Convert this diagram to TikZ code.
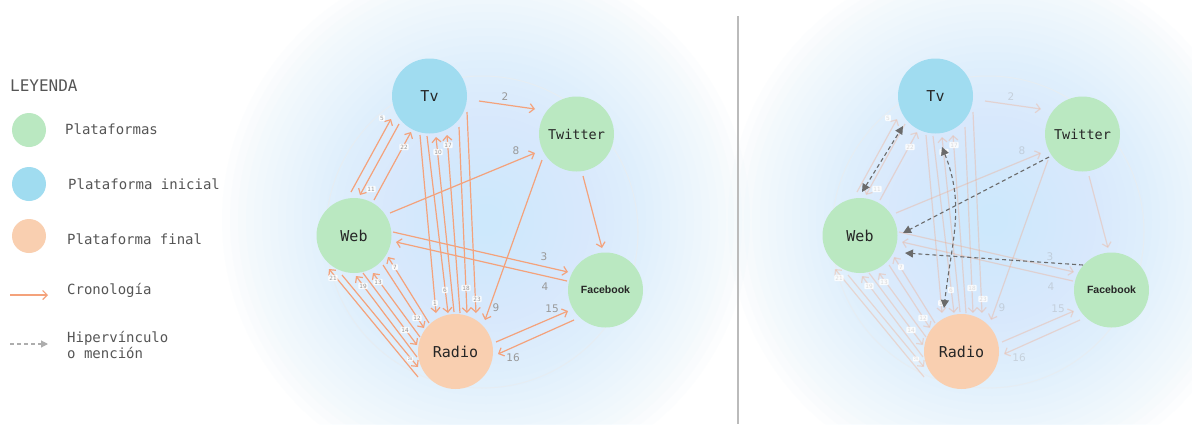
\documentclass[tikz,border=0pt]{standalone}
\usepackage{fontspec}
\setmainfont{DejaVu Sans}
\newfontfamily\monof{DejaVu Sans Mono}
\newfontfamily\libf{Liberation Sans}
\usetikzlibrary{arrows.meta,calc}
\definecolor{cgreen}{HTML}{BAE8C1}
\definecolor{cblue}{HTML}{A0DCF0}
\definecolor{cpeach}{HTML}{F9CFB0}
\definecolor{corange}{HTML}{F4A27B}
\definecolor{cglow}{HTML}{CDE8FC}
\definecolor{ctext}{HTML}{555555}
\definecolor{cnum}{HTML}{999999}
\definecolor{cdash}{HTML}{6B6B6B}
\definecolor{cring}{HTML}{E6EDF3}
\definecolor{cdiv}{HTML}{BBBBBB}
\tikzset{
  plat/.style={circle, minimum size=75pt, inner sep=0pt, text=black!85},
  arr/.style={draw=corange, line width=1.2pt, -{Straight Barb[length=4.5pt,width=9pt]}},
  smalllab/.style={fill=white, fill opacity=0.85, rounded corners=1pt, inner sep=1pt, font=\fontsize{5.8}{6}\selectfont, text=cnum},
  biglab/.style={inner sep=0pt, font=\fontsize{10.5}{12}\selectfont, text=cnum},
  hyp/.style={draw=cdash, line width=1.1pt, dash pattern=on 4pt off 3pt},
  tri/.tip={Triangle[length=8pt,width=8pt]},
  legtext/.style={anchor=west, inner sep=0pt, text=ctext, font=\monof\fontsize{14}{16}\selectfont, align=left}
}
\begin{document}
\begin{tikzpicture}[x=1pt,y=-1pt]
\useasboundingbox (0,0) rectangle (1192,424);
\fill[white] (0,0) rectangle (1192,424);
% glows
\foreach \cx in {486,992} {
  \foreach \r in {264,256,...,8} {
    \fill[cglow, fill opacity=0.05] (\cx,220) circle (\r);
  }
}
% divider
\coordinate (d1) at (738,16);
\coordinate (d2) at (738,424);
\draw[cdiv, line width=1.5pt] (d1) -- (d2);
% legend
\node[anchor=west, inner sep=0pt, text=ctext, font=\monof\fontsize{16}{18}\selectfont] (leg) at (10,86) {LEYENDA};
\fill[cgreen] (29,130) circle (17);
\fill[cblue] (29,184) circle (17);
\fill[cpeach] (29,236) circle (17);
\node[legtext] (l1) at (65,129) {Plataformas};
\node[legtext] (l2) at (68,184) {Plataforma inicial};
\node[legtext] (l3) at (67,239) {Plataforma final};
\node[legtext] (l4) at (67,290) {Cronología};
\node[legtext] (l5) at (67,345) {Hipervínculo\\o mención};
\coordinate (c1) at (10,295);
\coordinate (c2) at (48,295);
\draw[arr] (c1) -- (c2);
\coordinate (h1) at (10,344);
\coordinate (h2) at (48,344);
\draw[draw=cnum!80, line width=1.1pt, dash pattern=on 4pt off 3pt, -{Triangle[length=7pt,width=7pt]}] (h1) -- (h2);
% diagrams
\foreach \s/\dx/\op in {L/0/1, R/506/0.33} {
\begin{scope}[xshift=\dx pt]
  \draw[cring, line width=1pt] (482,232) circle (156);
  \node[plat, fill=cblue, font=\monof\fontsize{15}{16}\selectfont] (tv\s) at (429.5,96) {Tv};
  \node[plat, fill=cgreen, font=\monof\fontsize{13.5}{15}\selectfont] (tw\s) at (576.5,134) {Twitter};
  \node[plat, fill=cgreen, font=\monof\fontsize{15}{16}\selectfont] (web\s) at (354,235.5) {Web};
  \node[plat, fill=cgreen, font=\libf\bfseries\fontsize{10.5}{12}\selectfont] (fb\s) at (605.5,290) {Facebook};
  \node[plat, fill=cpeach, font=\monof\fontsize{15}{16}\selectfont] (ra\s) at (455.5,351.5) {Radio};
  \begin{scope}[opacity=\op]
  % Tv <-> Radio
  \draw[arr] ($(tv\s)+(-9.5,39)$) -- ($(ra\s)+(-19.5,-38.5)$);
  \draw[arr] ($(tv\s)+(-2.5,40)$) -- ($(ra\s)+(-7.5,-38.5)$);
  \draw[arr] ($(ra\s)+(-1.5,-39.5)$) -- ($(tv\s)+(6.5,41)$);
  \draw[arr] ($(ra\s)+(4.5,-38.5)$) -- ($(tv\s)+(17.5,39)$);
  \draw[arr] ($(tv\s)+(29.5,31)$) -- ($(ra\s)+(11.5,-38.5)$);
  \draw[arr] ($(tv\s)+(37.5,16)$) -- ($(ra\s)+(20.5,-38.5)$);
  % Web <-> Tv
  \draw[arr] ($(web\s)+(-3,-43.5)$) -- ($(tv\s)+(-38.5,23)$);
  \draw[arr] ($(tv\s)+(-30.5,28)$) -- ($(web\s)+(6,-40.5)$);
  \draw[arr] ($(web\s)+(20,-35.5)$) -- ($(tv\s)+(-18.5,36)$);
  % Web <-> Radio
  \draw[arr] ($(ra\s)+(-26.5,-28.5)$) -- ($(web\s)+(34,21.5)$);
  \draw[arr] ($(web\s)+(29,29.5)$) -- ($(ra\s)+(-31.5,-23.5)$);
  \draw[arr] ($(ra\s)+(-35.5,-14.5)$) -- ($(web\s)+(19,37.5)$);
  \draw[arr] ($(web\s)+(9,37.5)$) -- ($(ra\s)+(-38.5,-6.5)$);
  \draw[arr] ($(ra\s)+(-38.5,5.5)$) -- ($(web\s)+(2,40.5)$);
  \draw[arr] ($(web\s)+(-12,39.5)$) -- ($(ra\s)+(-37.5,15.5)$);
  \draw[arr] ($(ra\s)+(-37.5,25.5)$) -- ($(web\s)+(-25,33.5)$);
  % others
  \draw[arr] ($(tv\s)+(49.5,5)$) -- ($(tw\s)+(-41.5,-25)$);
  \draw[arr] ($(web\s)+(36,-22.5)$) -- ($(tw\s)+(-41.5,19)$);
  \draw[arr] ($(tw\s)+(-34.5,26)$) -- ($(ra\s)+(29.5,-31.5)$);
  \draw[arr] ($(tw\s)+(6.5,42)$) -- ($(fb\s)+(-3.5,-42)$);
  \draw[arr] ($(web\s)+(39,-3.5)$) -- ($(fb\s)+(-37.5,-18)$);
  \draw[arr] ($(fb\s)+(-38.5,-9)$) -- ($(web\s)+(42,6.5)$);
  \draw[arr] ($(ra\s)+(40.5,-9.5)$) -- ($(fb\s)+(-37.5,21)$);
  \draw[arr] ($(fb\s)+(-31.5,30)$) -- ($(ra\s)+(42.5,2.5)$);
  \end{scope}
  % labels
  \begin{scope}[text opacity=\op]
  \node[smalllab] at (435,303) {1};
  \node[smalllab] at (445,290) {6};
  \node[smalllab] at (438,152) {10};
  \node[smalllab] at (448,145) {17};
  \node[smalllab] at (466,288) {18};
  \node[smalllab] at (477,299) {23};
  \node[smalllab] at (382,118) {5};
  \node[smalllab] at (371,189) {11};
  \node[smalllab] at (404,147) {22};
  \node[smalllab] at (395,267) {7};
  \node[smalllab] at (417,318) {12};
  \node[smalllab] at (378,282) {13};
  \node[smalllab] at (405,330) {14};
  \node[smalllab] at (363,286) {19};
  \node[smalllab, font=\fontsize{3.5}{4}\selectfont] at (410,359) {20};
  \node[smalllab] at (333,278) {21};
  \node[biglab] at (505,97) {2};
  \node[biglab] at (516,151) {8};
  \node[biglab] at (496,308) {9};
  \node[biglab] at (544,257) {3};
  \node[biglab] at (545,287) {4};
  \node[biglab] at (552,309) {15};
  \node[biglab] at (513,358) {16};
  \end{scope}
\end{scope}
}
% hyperlinks (right diagram)
\draw[hyp, {tri}-{tri}] ($(webR)+(2,-43.5)$) -- ($(tvR)+(-32.5,30)$);
\draw[hyp, {tri}-{tri}] ($(tvR)+(6.5,51)$) .. controls ($(tvR)+(30,110)$) and ($(raR)+(-10,-110)$) .. ($(raR)+(-17.5,-43.5)$);
\draw[hyp, -{tri}] ($(twR)+(-33.5,23)$) -- ($(webR)+(43,-2.5)$);
\draw[hyp, -{tri}] ($(fbR)+(-28.5,-25)$) -- ($(webR)+(45,17.5)$);
\end{tikzpicture}
\end{document}
